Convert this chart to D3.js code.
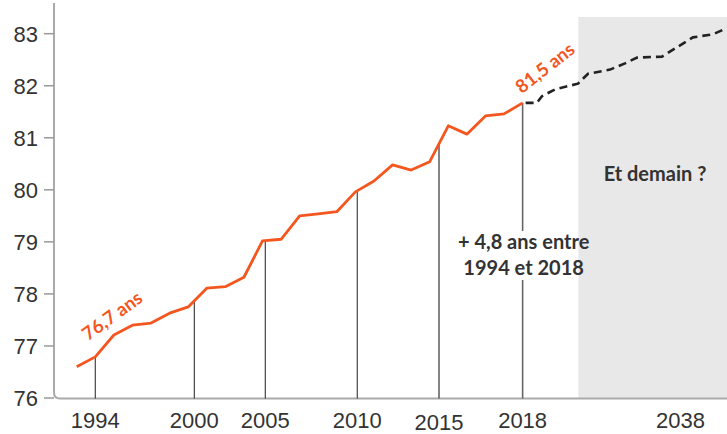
<!DOCTYPE html>
<html>
<head>
<meta charset="utf-8">
<script src="https://cdn.jsdelivr.net/npm/d3@7"></script>
<style>
  body { margin: 0; background: #fff; }
  text { font-family: "Liberation Sans", Arial, sans-serif; }
  .note { font-family: Lato, "Open Sans", sans-serif; font-weight: 700; }
</style>
</head>
<body>
<svg id="chart" width="727" height="434"></svg>
<script>
// esperance de vie observee (un point par pas sur l'axe)
const observed = [76.60, 76.79, 77.21, 77.40, 77.44, 77.63, 77.75, 78.11, 78.14, 78.32,
                  79.02, 79.05, 79.50, 79.54, 79.58, 79.96, 80.17, 80.48, 80.38, 80.54,
                  81.23, 81.07, 81.42, 81.46, 81.67];
// projection en pointilles
const projPos  = [24, 24.76, 25.04, 25.74, 26.98, 27.52, 28.71, 29.51, 30.16, 31.5, 32.31, 33.17, 34.25, 35];
const projVals = [81.67, 81.67, 81.80, 81.93, 82.04, 82.23, 82.31, 82.43, 82.54, 82.56, 82.74, 82.93, 82.99, 83.11];
// reperes annees
const yearLabels = ["1994", "2000", "2005", "2010", "2015", "2018"];
const yearPos    = [1, 6.33, 10.15, 15.1, 19.5, 24];
const futureLabel = "2038";
const futurePos   = 32.5;
const futureStart = 27;
const yTicks = [76, 77, 78, 79, 80, 81, 82, 83];

const W = 727, H = 434;
const orange = "#f4561f";
const svg = d3.select("#chart");

const x = d3.scaleLinear().domain([0, 35]).range([76.7, 727]);
const y = d3.scaleLinear().domain([76, 83]).range([398, 33.7]);
const axisX = 54, axisY = 398.5;

// valeur observee a une position fractionnaire
function valAt(u) {
  const i = Math.min(Math.floor(u), observed.length - 2);
  const t = u - i;
  return observed[i] + (observed[i + 1] - observed[i]) * t;
}

// zone "Et demain ?"
svg.append("rect")
  .attr("x", x(futureStart)).attr("y", 17)
  .attr("width", W - x(futureStart)).attr("height", axisY - 17)
  .attr("fill", "#e8e8e8");

svg.append("text").attr("class", "note")
  .attr("x", 655).attr("y", 181)
  .attr("text-anchor", "middle").attr("font-size", 20).attr("fill", "#333")
  .text("Et demain ?");

// axes
svg.append("path")
  .attr("d", `M${axisX},3 L${axisX},${axisY - 6} Q${axisX},${axisY} ${axisX + 6},${axisY} L${W},${axisY}`)
  .attr("fill", "none").attr("stroke", "#aaa").attr("stroke-width", 2);

svg.selectAll(".ytick").data(yTicks).enter().append("line")
  .attr("x1", axisX - 10).attr("x2", axisX)
  .attr("y1", d => y(d)).attr("y2", d => y(d))
  .attr("stroke", "#999").attr("stroke-width", 1.5);

svg.selectAll(".ylab").data(yTicks).enter().append("text")
  .attr("x", 38).attr("y", d => y(d)).attr("dy", "0.36em")
  .attr("text-anchor", "end").attr("font-size", 22).attr("fill", "#333")
  .text(d => d);

// lignes verticales des reperes
yearPos.forEach((p, i) => {
  const last = i === yearPos.length - 1;
  const col = i >= 4 ? "#666" : "#333";
  const sw = i >= 4 ? 1.6 : 1.1;
  const top = y(valAt(p));
  if (last) {
    svg.append("line").attr("x1", x(p)).attr("x2", x(p)).attr("y1", axisY).attr("y2", 280)
      .attr("stroke", col).attr("stroke-width", sw);
    svg.append("line").attr("x1", x(p)).attr("x2", x(p)).attr("y1", 231).attr("y2", top)
      .attr("stroke", col).attr("stroke-width", sw);
  } else {
    svg.append("line").attr("x1", x(p)).attr("x2", x(p)).attr("y1", axisY).attr("y2", top)
      .attr("stroke", col).attr("stroke-width", sw);
  }
});

svg.selectAll(".xlab").data(yearLabels).enter().append("text")
  .attr("x", (d, i) => x(yearPos[i])).attr("y", (d, i) => i === 4 ? 430 : 428)
  .attr("text-anchor", "middle").attr("font-size", 22).attr("fill", "#333")
  .text(d => d);
svg.append("text")
  .attr("x", x(futurePos)).attr("y", 428)
  .attr("text-anchor", "middle").attr("font-size", 22).attr("fill", "#333")
  .text(futureLabel);

// courbes
const line = d3.line().x(d => x(d[0])).y(d => y(d[1]));
svg.append("path")
  .datum(observed.map((v, i) => [i, v]))
  .attr("d", line)
  .attr("fill", "none").attr("stroke", orange).attr("stroke-width", 2.8)
  .attr("stroke-linejoin", "round");

svg.append("path")
  .datum(projPos.map((p, i) => [p, projVals[i]]))
  .attr("d", line)
  .attr("fill", "none").attr("stroke", "#222").attr("stroke-width", 2.6)
  .attr("stroke-dasharray", "8,5").attr("stroke-dashoffset", -3);

// annotations
svg.append("text").attr("class", "note")
  .attr("transform", "translate(116,321) rotate(-36)")
  .attr("text-anchor", "middle").attr("font-size", 18.5).attr("fill", orange)
  .text("76,7 ans");
svg.append("text").attr("class", "note")
  .attr("transform", "translate(549,73) rotate(-38)")
  .attr("text-anchor", "middle").attr("font-size", 18.5).attr("fill", orange)
  .text("81,5 ans");

svg.append("text").attr("class", "note")
  .attr("x", x(24) + 1).attr("y", 249)
  .attr("text-anchor", "middle").attr("font-size", 20).attr("fill", "#333")
  .text("+ 4,8 ans entre");
svg.append("text").attr("class", "note")
  .attr("x", x(24) + 1).attr("y", 275)
  .attr("text-anchor", "middle").attr("font-size", 20).attr("fill", "#333")
  .text("1994 et 2018");
</script>
</body>
</html>
